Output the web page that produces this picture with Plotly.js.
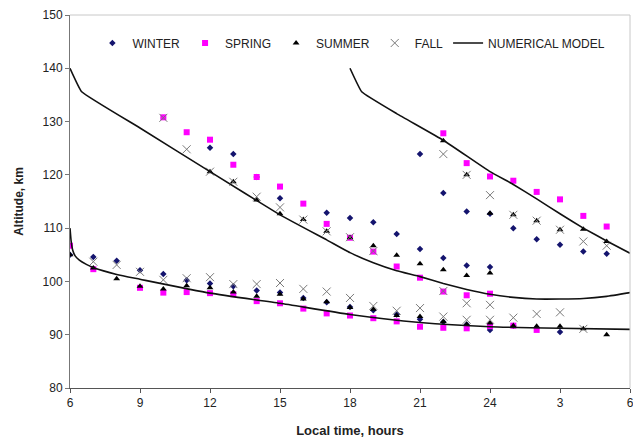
<!DOCTYPE html>
<html>
<head>
<meta charset="utf-8">
<script src="https://cdn.plot.ly/plotly-3.0.1.min.js"></script>
<style>html,body{margin:0;padding:0;background:#fff;}#chart{width:633px;height:443px;}</style>
</head>
<body>
<div id="chart"></div>
<script>
// Local time in hours (24+ means after midnight), altitude in km
var winterHours = [6,7,8,9,10,11,12,13,14,15,16,17,18,19,20,21,22,23,24,25,26,27,
                   12,13,14,15,17,18,19,20,21,22,23,24,
                   21,22,23,24,25,26,27,28,29];
var winterAlt   = [105,104.6,103.9,102.1,101.4,100.2,99.6,99.1,98.3,97.9,96.9,96.1,95.2,94.6,93.8,92.9,92.4,91.9,90.9,91.7,91.3,90.5,
                   125.1,123.9,119.6,115.6,112.9,111.9,111.1,108.9,106.1,104.4,103.0,102.7,
                   123.9,116.6,113.1,112.7,110.0,107.9,106.9,105.6,105.2];

var springHours = [6,7,9,10,11,12,13,14,15,16,17,18,19,20,21,22,23,24,25,26,
                   10,11,12,13,14,15,16,17,18,19,20,21,22,23,24,
                   22,23,24,25,26,27,28,29];
var springAlt   = [106.7,102.3,98.8,97.9,98.0,97.8,97.6,96.3,95.9,94.9,94.0,93.6,93.1,92.5,91.5,91.3,91.2,91.6,91.7,90.9,
                   130.8,128.0,126.6,121.9,119.6,117.8,114.6,110.8,108.2,105.6,102.8,100.7,98.1,97.4,97.7,
                   127.8,122.2,119.7,118.9,116.8,115.4,112.3,110.3];

var summerHours = [6,7,8,9,10,11,12,13,14,15,16,17,18,19,20,21,22,23,24,25,26,27,28,29,
                   12,13,14,15,16,17,18,19,20,21,22,23,24,
                   22,23,24,25,26,27,28,29];
var summerAlt   = [105,102.5,100.5,99.1,98.6,99.2,98.8,98.0,97.2,97.6,96.7,96.2,95.1,94.8,93.6,93.4,92.5,91.9,92.2,91.7,91.6,91.6,91.1,90.0,
                   120.6,118.7,115.3,112.7,111.6,109.4,108.2,106.7,104.9,103.3,102.2,101.1,101.6,
                   126.4,120.0,112.8,112.5,111.4,109.7,109.8,107.5];

var fallHours = [7,8,9,10,11,12,13,14,15,16,17,18,19,20,21,22,23,24,25,26,27,28,
                 10,11,12,13,14,15,16,17,18,19,22,23,24,
                 22,23,24,25,26,27,28,29];
var fallAlt   = [103.7,103.1,101.8,100.3,100.6,100.8,99.5,99.5,99.7,98.6,98.1,96.9,95.4,94.5,95.0,93.4,92.8,92.8,93.2,93.9,94.2,91.1,
                 130.7,124.8,120.6,118.7,115.9,113.9,111.6,109.4,108.3,105.7,98.2,95.9,95.6,
                 123.9,120.0,116.2,112.5,111.4,109.7,107.5,106.7];

// Numerical model curves
var modelUpperHours = [6,6.5,9,12,15,17,18,19,20,21,22,23,24,25,26,27,28,29,30];
var modelUpperAlt   = [140,135.6,128.8,120.6,112.5,107.8,105.4,103.5,102,100.9,99.6,98.5,97.6,97.0,96.7,96.7,96.8,97.2,97.9];
var modelNightHours = [18,18.5,20,22,24,25,26,27,28,29,30];
var modelNightAlt   = [140,135.6,131.5,126.5,120.6,118.2,115.5,112.7,110,107.6,105.3];
var modelLowerHours = [6,6.05,6.12,6.22,6.4,6.7,7,8,9,12,15,18,21,24,27,30];
var modelLowerAlt   = [110,107.5,105.8,104.8,104.0,103.2,102.6,101.3,100.4,97.8,95.9,93.8,92.3,91.5,91.2,91.0];

var tickVals  = [6,9,12,15,18,21,24,27,30];
var tickTexts = ['6','9','12','15','18','21','24','3','6'];
var yTicks    = [80,90,100,110,120,130,140,150];

var lineStyle = {color:'#111111', width:1.6};
var traces = [
  {x:winterHours, y:winterAlt, name:'WINTER', type:'scatter', mode:'markers',
   marker:{symbol:'diamond', size:5, color:'#14146e'}},
  {x:springHours, y:springAlt, name:'SPRING', type:'scatter', mode:'markers',
   marker:{symbol:'square', size:6, color:'#ff00ff'}},
  {x:summerHours, y:summerAlt, name:'SUMMER', type:'scatter', mode:'markers',
   marker:{symbol:'triangle-up', size:6, color:'#000000'}},
  {x:fallHours, y:fallAlt, name:'FALL', type:'scatter', mode:'markers',
   marker:{symbol:'x-thin-open', size:8, color:'#7a7a7a', line:{color:'#7a7a7a', width:1}}},
  {x:modelUpperHours, y:modelUpperAlt, name:'NUMERICAL MODEL', type:'scatter', mode:'lines',
   line:Object.assign({shape:'spline', smoothing:0.3}, lineStyle)},
  {x:modelNightHours, y:modelNightAlt, name:'NUMERICAL MODEL', type:'scatter', mode:'lines', showlegend:false,
   line:Object.assign({shape:'spline', smoothing:0.3}, lineStyle)},
  {x:modelLowerHours, y:modelLowerAlt, name:'NUMERICAL MODEL', type:'scatter', mode:'lines', showlegend:false,
   line:Object.assign({shape:'spline', smoothing:0.5}, lineStyle)}
];

var layout = {
  width:633, height:443,
  margin:{l:70, r:3, t:15, b:55},
  paper_bgcolor:'#ffffff', plot_bgcolor:'#ffffff',
  font:{family:'Liberation Sans, Arial, sans-serif', size:12, color:'#222222'},
  showlegend:true,
  legend:{orientation:'h', x:0.04, y:0.925, xanchor:'left', yanchor:'middle',
          bgcolor:'rgba(0,0,0,0)', font:{size:12, color:'#222222'}, traceorder:'normal',
          itemwidth:30},
  xaxis:{range:[6,30], tickvals:tickVals, ticktext:tickTexts, showgrid:false, zeroline:false,
         showline:true, linecolor:'#555555', linewidth:1, mirror:false,
         ticks:'outside', ticklen:4, tickcolor:'#555555', ticklabeloverflow:'allow',
         title:{text:'<b>Local time, hours</b>', font:{size:13, color:'#222222'}, standoff:16}},
  yaxis:{range:[80,150], tickvals:yTicks, showgrid:false, zeroline:false,
         showline:true, linecolor:'#777777', linewidth:1, mirror:false,
         ticks:'outside', ticklen:4, tickcolor:'#777777',
         title:{text:'<b>Altitude, km</b>', font:{size:12, color:'#222222'}, standoff:16}},
  shapes:[
    {type:'line', xref:'paper', yref:'paper', x0:0, x1:1, y0:1, y1:1, line:{color:'#c8c8c8', width:1}},
    {type:'line', xref:'paper', yref:'paper', x0:1, x1:1, y0:0, y1:1, line:{color:'#c8c8c8', width:1}}
  ]
};

Plotly.newPlot('chart', traces, layout, {displayModeBar:false, staticPlot:true});
</script>
</body>
</html>
